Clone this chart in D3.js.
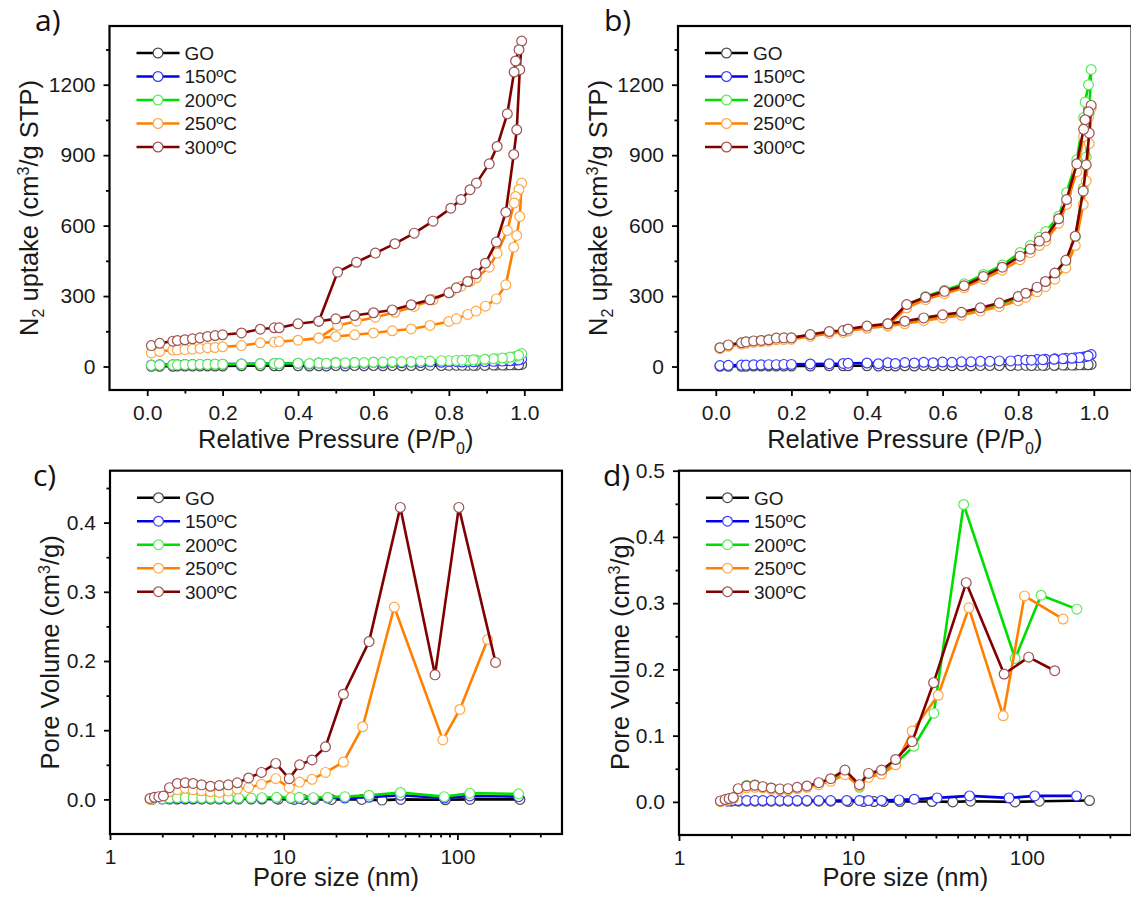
<!DOCTYPE html>
<html>
<head>
<meta charset="utf-8">
<script src="https://cdn.jsdelivr.net/npm/d3@7"></script>
<style>
  body { margin: 0; background: #fff; }
  svg { display: block; }
</style>
</head>
<body>
<svg id="fig" width="1131" height="902"></svg>
<script>
// ---------- series meta ----------
const seriesNames = ["GO", "150ºC", "200ºC", "250ºC", "300ºC"];
const lineColors  = ["#000000", "#0000e8", "#00dd00", "#ff8000", "#800000"];
const markColors  = ["#4a4a4a", "#3a3aff", "#5cea5c", "#ffa947", "#9c5252"];

// ---------- N2 isotherms: relative pressure ----------
const pAds    = [0.011,0.033,0.068,0.08,0.10,0.12,0.14,0.16,0.18,0.20,0.25,0.30,0.337,0.35,0.40,0.455,0.50,0.55,0.60,0.65,0.70,0.75,0.80,0.82,0.85,0.872,0.897,0.926,0.951,0.972,0.980,0.988,0.993];
const pDes    = [0.986,0.977,0.973,0.955,0.928,0.907,0.873,0.856,0.832,0.805,0.758,0.708,0.657,0.605,0.555,0.505,0.455];
const pDesLow = [0.985,0.962,0.942,0.918,0.895,0.865,0.835,0.78,0.725,0.675,0.625,0.575,0.525,0.475,0.43];

// panel a uptake (cm3/g STP)
const aGOAds  = [1,1,1,2,2,2,2,2,2,2,3,3,3,3,3,3,4,4,4,4,4,5,5,5,5,5,6,6,6,7,7,8,9];
const aGODes  = [8,7,6,6,5,5,5,4,4,3,3,3,2,2,2];
const a150Ads = [6,7,8,8,9,9,9,10,10,10,11,12,13,13,14,15,16,17,18,18,19,20,21,21,22,22,23,24,25,26,28,30,32];
const a150Des = [28,25,23,22,21,20,19,18,17,16,15,14,13,12,11];
const a200Ads = [5,6,7,7,8,8,9,9,10,10,11,12,13,13,14,15,16,17,18,20,21,23,25,26,27,28,30,33,35,40,45,50,55];
const a200Des = [48,40,36,33,31,29,27,25,23,21,19,17,16,14,13];
const a250Ads = [58,64,70,71,72,74,77,80,81,84,89,101,104,106,112,121,128,135,143,152,160,175,192,203,222,236,257,288,348,508,558,639,781];
const a250Des = [754,724,696,579,483,423,378,362,341,317,284,256,231,210,193,175,121];
const a300Ads = [89,99,108,111,114,118,122,128,132,135,143,159,165,165,182,193,203,217,229,241,263,284,314,335,362,395,440,530,657,903,1008,1264,1386];
const a300Des = [1349,1301,1254,1076,937,863,781,753,711,674,619,568,523,483,444,402,193];

// panel b uptake (cm3/g STP)
const bGOAds  = [1,1,1,1,2,2,2,2,2,2,2,3,3,3,3,3,3,4,4,4,4,4,5,5,5,5,5,6,6,7,7,8,9];
const bGODes  = [8,7,6,6,5,5,4,4,4,3,3,3,2,2,2];
const b150Ads = [4,5,6,6,7,7,8,8,9,9,11,12,13,14,15,16,17,18,19,20,22,24,27,28,30,31,33,35,37,40,43,47,51];
const b150Des = [45,38,35,33,31,29,27,24,22,20,18,16,15,13,12];
const b200Ads = [80,91,100,104,108,110,113,119,120,121,134,147,151,158,170,180,190,203,215,226,244,264,290,304,330,355,390,445,550,760,892,1080,1265];
const b200Des = [1200,1126,1060,880,740,640,575,550,515,485,432,392,352,325,298,262,180];
const b250Ads = [76,86,95,99,103,105,108,114,115,116,128,141,145,151,163,173,182,195,207,218,236,255,280,294,318,340,372,420,515,690,790,950,1100];
const b250Des = [1060,1020,980,830,690,610,535,515,485,455,410,372,335,310,285,250,173];
const b300Ads = [80,92,101,105,109,111,114,121,122,122,136,149,153,160,172,182,193,207,220,231,250,270,298,312,338,362,398,452,555,747,859,994,1112];
const b300Des = [1085,1051,1010,863,711,629,551,534,500,470,423,383,344,320,295,264,182];

// ---------- pore size distributions (nm, cm3/g) ----------
const cGOx  = [1.74,2.2,2.44,2.71,3.01,3.37,3.79,4.26,4.80,5.5,6.5,7.5,9.3,11.5,13.0,15.0,18.8,28.1,36.8,47.2,85.2,118,229];
const cGOy  = [0,0.0005,0.0005,0.0005,0.0005,0.0005,0.0005,0.0005,0.0005,0.0005,0.0005,0.0005,0.0003,0,0,0,0,0,-0.001,0,-0.0005,0,0];
const c150x = [1.74,2.0,2.2,2.44,2.71,3.01,3.37,3.79,4.26,4.80,5.5,6.5,7.5,9.1,11.0,12.3,14.8,17.9,22.5,31.0,47.0,84.0,118.0,225.0];
const c150y = [0,0.0005,0.001,0.001,0.001,0.001,0.001,0.001,0.001,0.001,0.001,0.001,0.0015,0.0015,0.0015,0.0015,0.0015,0.002,0.002,0.003,0.006,0.002,0.005,0.004];
const c200x = [1.74,2.0,2.2,2.44,2.71,3.01,3.37,3.79,4.26,4.80,5.5,6.5,7.5,9.1,11.0,12.3,14.8,17.9,22.5,31.0,47.0,84.0,118.0,225.0];
const c200y = [0,0.001,0.002,0.0025,0.0025,0.0025,0.002,0.002,0.002,0.002,0.002,0.002,0.0025,0.003,0.0025,0.003,0.0025,0.003,0.004,0.006,0.010,0.004,0.009,0.008];
const c250x = [1.70,2.20,2.44,2.71,3.01,3.37,3.79,4.26,4.80,5.40,6.28,7.44,9.0,10.76,12.34,14.56,17.4,22.07,28.5,43.3,82.4,103.3,149.4];
const c250y = [0.0,0.011,0.014,0.016,0.014,0.0125,0.011,0.010,0.012,0.015,0.017,0.022,0.030,0.017,0.025,0.029,0.039,0.054,0.105,0.278,0.086,0.130,0.231];
const c300x = [1.70,1.80,1.91,2.03,2.20,2.44,2.71,3.01,3.37,3.79,4.26,4.80,5.40,6.28,7.44,9.0,10.76,12.34,14.56,17.4,22.07,31.0,46.9,74.3,101.9,165.8];
const c300y = [0.0014,0.003,0.004,0.005,0.017,0.023,0.024,0.023,0.021,0.019,0.020,0.021,0.024,0.031,0.039,0.052,0.030,0.050,0.057,0.076,0.152,0.228,0.422,0.180,0.422,0.198];

const dGOx  = [2.0,2.2,2.45,2.73,3.03,3.39,3.80,4.24,4.78,5.44,6.36,7.45,9.4,11.5,13.2,15.0,18.6,28.5,37.5,47.5,85.5,118,229];
const dGOy  = [0.001,0.001,0.001,0.001,0.001,0.001,0.001,0.001,0.001,0.001,0.001,0.001,0.0005,0.0005,0.0005,0.0005,0.0005,0.0005,0,0.001,0,0.001,0.002];
const d150x = [1.9,2.05,2.19,2.45,2.73,3.03,3.39,3.80,4.24,4.78,5.44,6.36,7.45,9.2,10.9,12.3,14.6,18.4,22.5,30.5,46.8,79,111,193];
const d150y = [0.001,0.002,0.002,0.002,0.002,0.002,0.002,0.002,0.002,0.002,0.002,0.002,0.002,0.002,0.002,0.002,0.002,0.003,0.004,0.006,0.009,0.006,0.009,0.009];
const d200x = [1.73,1.84,1.94,2.05,2.19,2.45,2.73,3.03,3.39,3.80,4.24,4.78,5.44,6.36,7.45,8.99,10.9,12.3,14.6,17.6,22.4,29.2,43.3,85.6,120.6,193.8];
const d200y = [0.001,0.003,0.004,0.006,0.019,0.025,0.026,0.023,0.021,0.019,0.019,0.021,0.023,0.028,0.033,0.045,0.022,0.040,0.045,0.058,0.084,0.134,0.449,0.2165,0.312,0.291];
const d250x = [1.73,1.84,1.94,2.05,2.19,2.45,2.73,3.03,3.39,3.80,4.24,4.78,5.44,6.36,7.45,8.99,10.9,12.3,14.6,17.6,21.9,30.9,46.4,73.1,96.9,161.5];
const d250y = [0.0005,0.002,0.003,0.005,0.016,0.021,0.022,0.021,0.019,0.018,0.018,0.020,0.022,0.026,0.031,0.041,0.024,0.037,0.042,0.056,0.107,0.161,0.293,0.130,0.311,0.276];
const d300x = [1.73,1.84,1.94,2.05,2.19,2.45,2.73,3.03,3.39,3.80,4.24,4.78,5.44,6.36,7.45,8.99,10.9,12.3,14.6,17.6,21.9,29.1,44.8,74.0,102.4,144.5];
const d300y = [0.0015,0.0035,0.005,0.0065,0.020,0.024,0.025,0.023,0.021,0.0196,0.020,0.022,0.024,0.029,0.035,0.048,0.026,0.043,0.048,0.064,0.091,0.180,0.331,0.193,0.2185,0.198];

// ---------- axis ticks ----------
const isoXMajor = [0, 0.2, 0.4, 0.6, 0.8, 1.0];
const isoXMinor = [0.1, 0.3, 0.5, 0.7, 0.9];
const isoYMajor = [0, 300, 600, 900, 1200];
const isoYMinor = [150, 450, 750, 1050, 1350];
const psdXMajor = [1, 10, 100];
const psdXMinor = [2,3,4,5,6,7,8,9,20,30,40,50,60,70,80,90,200,300];
const psdYMajorC = [0, 0.1, 0.2, 0.3, 0.4];
const psdYMinorC = [0.05, 0.15, 0.25, 0.35, 0.45];
const psdYMajorD = [0, 0.1, 0.2, 0.3, 0.4, 0.5];
const psdYMinorD = [0.05, 0.15, 0.25, 0.35, 0.45];

// ---------- helpers ----------
const zip = (xs, ys) => xs.map((v, i) => [v, ys[i]]);
const svg = d3.select("#fig");
const FONT = "'Liberation Sans', Arial, sans-serif";

function styleAxis(sel) {
  sel.select(".domain").remove();
  sel.selectAll(".tick line").attr("stroke", "#000").attr("stroke-width", 1.8);
  sel.selectAll(".tick text")
    .attr("font-family", FONT).attr("font-size", 21).attr("fill", "#1a1a1a");
}

function drawPanel(o) {
  const g = svg.append("g");
  const x = o.x, y = o.y;

  // ticks (outward, left & bottom)
  g.append("g").attr("transform", `translate(0,${o.b})`)
    .call(d3.axisBottom(x).tickValues(o.xMinor).tickSize(3.5).tickFormat(""))
    .call(styleAxis);
  g.append("g").attr("transform", `translate(0,${o.b})`)
    .call(d3.axisBottom(x).tickValues(o.xMajor).tickSize(6).tickPadding(9).tickFormat(o.xFmt))
    .call(styleAxis);
  g.append("g").attr("transform", `translate(${o.l},0)`)
    .call(d3.axisLeft(y).tickValues(o.yMinor).tickSize(3.5).tickFormat(""))
    .call(styleAxis);
  g.append("g").attr("transform", `translate(${o.l},0)`)
    .call(d3.axisLeft(y).tickValues(o.yMajor).tickSize(6).tickPadding(8).tickFormat(o.yFmt))
    .call(styleAxis);

  // frame
  g.append("rect")
    .attr("x", o.l).attr("y", o.t)
    .attr("width", o.r - o.l).attr("height", o.b - o.t)
    .attr("fill", "none").attr("stroke", "#000").attr("stroke-width", 2.2);

  // series
  const line = d3.line().x(d => x(d[0])).y(d => y(d[1]));
  o.series.forEach((pts, i) => {
    const sg = g.append("g");
    sg.append("path").datum(pts)
      .attr("d", line).attr("fill", "none")
      .attr("stroke", lineColors[i]).attr("stroke-width", 2.6)
      .attr("stroke-linejoin", "round");
    sg.selectAll("circle").data(pts).join("circle")
      .attr("cx", d => x(d[0])).attr("cy", d => y(d[1])).attr("r", 4.9)
      .attr("fill", "#fff").attr("stroke", markColors[i]).attr("stroke-width", 1.2);
  });

  // legend
  const lg = g.append("g").attr("transform", `translate(${o.l + 27},${o.t + 27})`);
  seriesNames.forEach((name, i) => {
    const row = lg.append("g").attr("transform", `translate(0,${i * 23.5})`);
    row.append("line").attr("x1", 0).attr("x2", 43).attr("y1", 0).attr("y2", 0)
      .attr("stroke", lineColors[i]).attr("stroke-width", 2.6);
    row.append("circle").attr("cx", 21.5).attr("cy", 0).attr("r", 4.9)
      .attr("fill", "#fff").attr("stroke", markColors[i]).attr("stroke-width", 1.2);
    row.append("text").attr("x", 48).attr("y", 0).attr("dy", "0.36em")
      .attr("font-family", FONT).attr("font-size", 19).attr("fill", "#1a1a1a")
      .text(name);
  });

  // x title, centred on the visible part of the frame
  const xt = g.append("text")
    .attr("x", (o.l + o.r) / 2).attr("y", o.xTitleY)
    .attr("text-anchor", "middle").attr("font-family", FONT)
    .attr("font-size", 25.5).attr("fill", "#1a1a1a");
  o.xTitle(xt);

  // y title
  const cy = (o.t + o.b) / 2;
  const yt = g.append("text")
    .attr("transform", `translate(${o.yTitleX},${cy}) rotate(-90)`)
    .attr("text-anchor", "middle").attr("font-family", FONT)
    .attr("font-size", 25.5).attr("fill", "#1a1a1a");
  o.yTitle(yt);

  // panel letter
  g.append("text").attr("x", o.labelX).attr("y", o.labelY)
    .attr("font-family", "'Open Sans', 'Noto Sans', sans-serif").attr("font-size", 30)
    .attr("fill", "#111").text(o.label);
}

function pressureTitle(t) {
  t.append("tspan").text("Relative Pressure (P/P");
  t.append("tspan").attr("font-size", 16).attr("dy", 6).text("0");
  t.append("tspan").attr("dy", -6).text(")");
}
function uptakeTitle(t) {
  t.append("tspan").text("N");
  t.append("tspan").attr("font-size", 16).attr("dy", 6).text("2");
  t.append("tspan").attr("dy", -6).text(" uptake (cm");
  t.append("tspan").attr("font-size", 16).attr("dy", -9).text("3");
  t.append("tspan").attr("dy", 9).text("/g STP)");
}
function poreSizeTitle(t) { t.text("Pore size (nm)"); }
function poreVolTitle(t) {
  t.append("tspan").text("Pore Volume (cm");
  t.append("tspan").attr("font-size", 16).attr("dy", -9).text("3");
  t.append("tspan").attr("dy", 9).text("/g)");
}

const fmt1 = d3.format(".1f");
const fmtInt = d3.format("d");

// ---------- panel a ----------
{
  const l = 109.5, r = 562, t = 26, b = 390;
  drawPanel({
    l, r, t, b,
    x: d3.scaleLinear().domain([-0.1, 1.1]).range([l, r]),
    y: d3.scaleLinear().domain([-100, 1450]).range([b, t]),
    xMajor: isoXMajor, xMinor: isoXMinor, yMajor: isoYMajor, yMinor: isoYMinor,
    xFmt: fmt1, yFmt: fmtInt,
    series: [
      zip(pAds.concat(pDesLow), aGOAds.concat(aGODes)),
      zip(pAds.concat(pDesLow), a150Ads.concat(a150Des)),
      zip(pAds.concat(pDesLow), a200Ads.concat(a200Des)),
      zip(pAds.concat(pDes), a250Ads.concat(a250Des)),
      zip(pAds.concat(pDes), a300Ads.concat(a300Des))
    ],
    xTitle: pressureTitle, xTitleY: 448,
    yTitle: uptakeTitle, yTitleX: 38,
    label: "a)", labelX: 35, labelY: 31
  });
}

// ---------- panel b ----------
{
  const l = 678, r = 1131.6, t = 26, b = 390;
  drawPanel({
    l, r, t, b,
    x: d3.scaleLinear().domain([-0.1, 1.1]).range([l, r]),
    y: d3.scaleLinear().domain([-100, 1450]).range([b, t]),
    xMajor: isoXMajor, xMinor: isoXMinor, yMajor: isoYMajor, yMinor: isoYMinor,
    xFmt: fmt1, yFmt: fmtInt,
    series: [
      zip(pAds.concat(pDesLow), bGOAds.concat(bGODes)),
      zip(pAds.concat(pDesLow), b150Ads.concat(b150Des)),
      zip(pAds.concat(pDes), b200Ads.concat(b200Des)),
      zip(pAds.concat(pDes), b250Ads.concat(b250Des)),
      zip(pAds.concat(pDes), b300Ads.concat(b300Des))
    ],
    xTitle: pressureTitle, xTitleY: 448,
    yTitle: uptakeTitle, yTitleX: 607,
    label: "b)", labelX: 604, labelY: 31
  });
}

// ---------- panel c ----------
{
  const l = 110, r = 562, t = 470.7, b = 834;
  drawPanel({
    l, r, t, b,
    x: d3.scaleLog().domain([1, 400]).range([l, r]),
    y: d3.scaleLinear().domain([-0.05, 0.475]).range([b, t]),
    xMajor: psdXMajor, xMinor: psdXMinor, yMajor: psdYMajorC, yMinor: psdYMinorC,
    xFmt: fmtInt, yFmt: fmt1,
    series: [zip(cGOx, cGOy), zip(c150x, c150y), zip(c200x, c200y), zip(c250x, c250y), zip(c300x, c300y)],
    xTitle: poreSizeTitle, xTitleY: 886,
    yTitle: poreVolTitle, yTitleX: 59,
    label: "c)", labelX: 33, labelY: 486
  });
}

// ---------- panel d ----------
{
  const l = 679, r = 1131.6, t = 470.7, b = 835;
  drawPanel({
    l, r, t, b,
    x: d3.scaleLog().domain([1, 400]).range([l, r]),
    y: d3.scaleLinear().domain([-0.05, 0.5]).range([b, t]),
    xMajor: psdXMajor, xMinor: psdXMinor, yMajor: psdYMajorD, yMinor: psdYMinorD,
    xFmt: fmtInt, yFmt: fmt1,
    series: [zip(dGOx, dGOy), zip(d150x, d150y), zip(d200x, d200y), zip(d250x, d250y), zip(d300x, d300y)],
    xTitle: poreSizeTitle, xTitleY: 886,
    yTitle: poreVolTitle, yTitleX: 629,
    label: "d)", labelX: 603, labelY: 486
  });
}
</script>
</body>
</html>
